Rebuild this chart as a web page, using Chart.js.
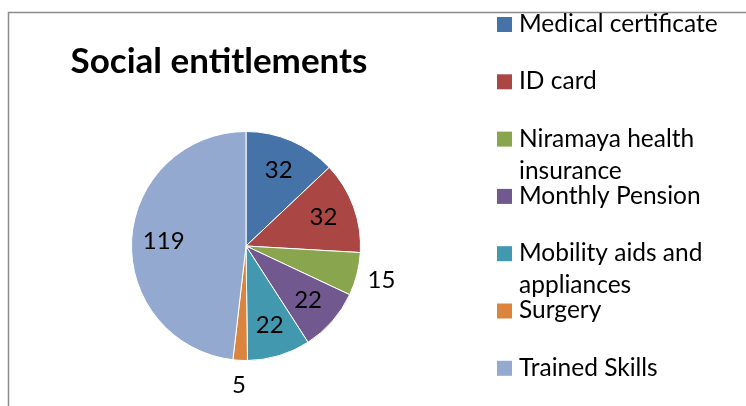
<!DOCTYPE html>
<html>
<head>
<meta charset="utf-8">
<script src="https://cdn.jsdelivr.net/npm/chart.js@4.4.1/dist/chart.umd.min.js"></script>
<style>
  html, body { margin: 0; padding: 0; background: #fff; }
  #wrap { position: relative; width: 746px; height: 406px; }
</style>
</head>
<body>
<div id="wrap"><canvas id="pieChart" width="746" height="406"></canvas></div>
<script>
const chartTitle = "Social entitlements";
const categories = ["Medical certificate", "ID card", "Niramaya health insurance", "Monthly Pension", "Mobility aids and appliances", "Surgery", "Trained Skills"];
// legend text split over lines as in the original
const legendLines = [["Medical certificate"], ["ID card"], ["Niramaya health", "insurance"], ["Monthly Pension"], ["Mobility aids and", "appliances"], ["Surgery"], ["Trained Skills"]];
const values = [32, 32, 15, 22, 22, 5, 119];
const colors = ["#4572A7", "#AA4643", "#89A54E", "#71588F", "#4198AF", "#DB843D", "#93A9CF"];

const fontFamily = "Lato, 'Open Sans', sans-serif";

const frameAndText = {
    id: "frameAndText",
    afterDraw(chart) {
        const ctx = chart.ctx;
        ctx.save();

        // frame lines (cropped chart border)
        ctx.strokeStyle = "#8c8c8c";
        ctx.lineWidth = 1.5;
        ctx.beginPath();
        ctx.moveTo(8.5, 406);
        ctx.lineTo(8.5, 12.5);
        ctx.lineTo(746, 12.5);
        ctx.stroke();

        // title
        ctx.fillStyle = "#000";
        ctx.font = "bold 35px " + fontFamily;
        ctx.textAlign = "center";
        ctx.textBaseline = "middle";
        ctx.fillText(chartTitle, 219, 62);

        // data labels
        ctx.font = "24px " + fontFamily;
        const meta = chart.getDatasetMeta(0);
        meta.data.forEach((arc, i) => {
            const p = arc.getProps(["x", "y", "startAngle", "endAngle", "outerRadius"], true);
            const mid = (p.startAngle + p.endAngle) / 2;
            const r = values[i] < 20 ? p.outerRadius * 1.22 : p.outerRadius * 0.72;
            ctx.fillText(String(values[i]), p.x + Math.cos(mid) * r, p.y + Math.sin(mid) * r);
        });

        // legend
        ctx.textAlign = "left";
        ctx.font = "24.5px " + fontFamily;
        let y = 24;
        legendLines.forEach((lines, i) => {
            ctx.fillStyle = colors[i];
            ctx.fillRect(497, y - 7, 15, 15);
            ctx.fillStyle = "#000";
            lines.forEach((t, j) => ctx.fillText(t, 519, y + j * 32));
            y += 57.3;
        });
        ctx.restore();
    }
};

new Chart(document.getElementById("pieChart"), {
    type: "pie",
    data: {
        labels: categories,
        datasets: [{
            data: values,
            backgroundColor: colors,
            borderColor: "#ffffff",
            borderWidth: 1
        }]
    },
    options: {
        responsive: false,
        animation: false,
        layout: { padding: { left: 131, right: 385, top: 131, bottom: 45 } },
        plugins: {
            legend: { display: false },
            tooltip: { enabled: false },
            title: { display: false }
        }
    },
    plugins: [frameAndText]
});
</script>
</body>
</html>
